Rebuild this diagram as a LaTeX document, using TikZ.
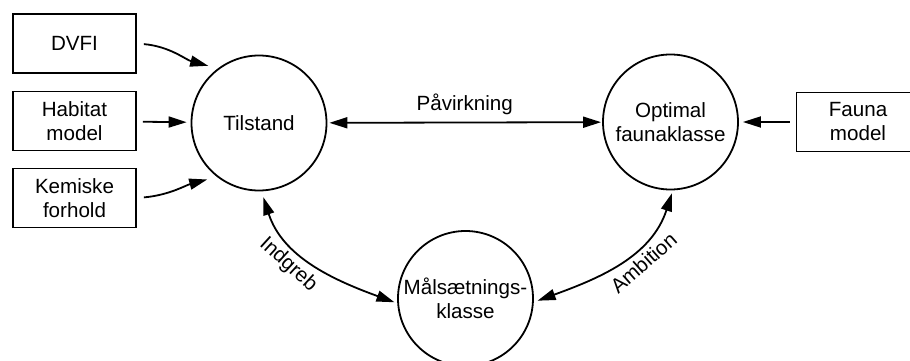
\documentclass[tikz,border=0pt]{standalone}
\usepackage{fontspec}
\setmainfont{Liberation Sans}
\usetikzlibrary{arrows.meta}

\begin{document}
\begin{tikzpicture}[x=0.5pt,y=0.5pt,>={Triangle[length=9pt,width=5.5pt]},
    line width=0.9pt,
    every node/.style={font=\fontsize{10.3}{12}\selectfont,align=center},
    kasse/.style={draw,rectangle,minimum width=61.5pt,minimum height=29.5pt,inner sep=0pt},
    kreds/.style={draw,circle,minimum size=67.5pt,inner sep=0pt}]
    \useasboundingbox (0,0) rectangle (910,360);

    \node[kasse] (dvfi) at (74.5,316.5) {DVFI};
    \node[kasse] (habitat) at (74.5,239) {Habitat\\model};
    \node[kasse] (kemiske) at (74.5,162) {Kemiske\\forhold};
    \node[kasse] (fauna) at (858,238) {Fauna\\model};

    \node[kreds] (tilstand) at (259,237) {Tilstand};
    \node[kreds] (optimal) at (670.5,238) {Optimal\\faunaklasse};
    \node[kreds] (maal) at (465.5,61.5) {Målsætnings-\\klasse};

    \draw[->,shorten <=3.5pt,shorten >=5pt]
          (dvfi.east) to[out=-5,in=165] (tilstand.127);
    \draw[->,shorten <=3.5pt,shorten >=5pt]
          (kemiske.east) to[out=5,in=-165] (tilstand.-128);
    \draw[->,shorten <=3pt,shorten >=2pt] (habitat) -- (tilstand);
    \draw[->,shorten <=3pt,shorten >=2pt] (fauna) -- (optimal);
    \draw[<->,shorten <=1pt,shorten >=0.5pt]
          (tilstand) -- node[above] {Påvirkning} (optimal);
    \draw[<->,shorten <=3pt,shorten >=1.5pt]
          (tilstand.-88) to[out=-72,in=160] node[pos=0.4,sloped,below] {Indgreb} (maal.184);
    \draw[<->,shorten <=2pt,shorten >=1.5pt]
          (maal.-3) to[out=20,in=-108] node[pos=0.6,sloped,below] {Ambition} (optimal.-88);
\end{tikzpicture}
\end{document}
